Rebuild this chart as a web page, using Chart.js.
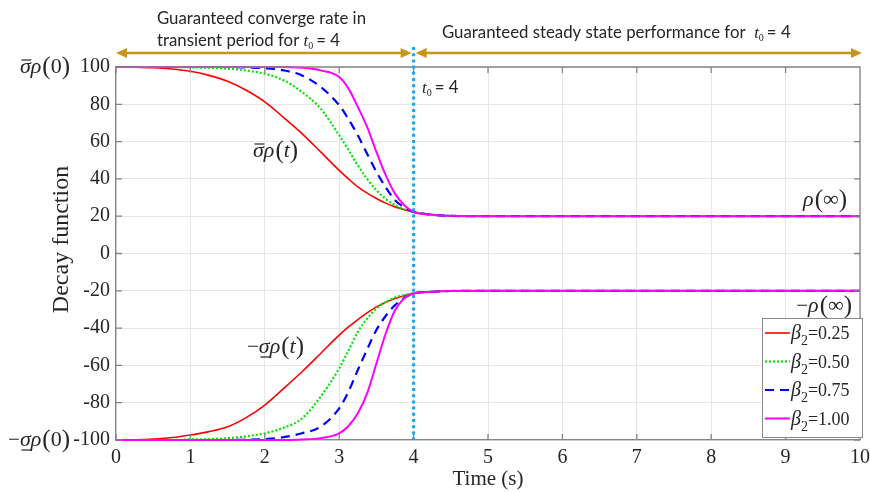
<!DOCTYPE html>
<html>
<head>
<meta charset="utf-8">
<script src="https://cdn.jsdelivr.net/npm/chart.js@4.4.1/dist/chart.umd.min.js"></script>
<style>
  html, body { margin: 0; padding: 0; background: #fff; }
  #wrap { width: 870px; height: 492px; }
</style>
</head>
<body>
<div id="wrap"><canvas id="c" width="870" height="492"></canvas></div>
<script>
// Sample instants (s) shared by every decay curve
const timeS = [0, 0.25, 0.5, 0.75, 1, 1.25, 1.5, 1.75, 2, 2.25, 2.5, 2.75, 3, 3.125, 3.25, 3.375, 3.5, 3.625, 3.75, 3.875, 4, 4.25, 4.5, 5, 6, 7, 8, 9, 10];

// Upper bound  sigma-bar * rho(t)  for each beta_2
const upper025 = [100, 99.9, 99.6, 98.9, 97.7, 95.5, 92.3, 87.5, 81.3, 73.0, 64.3, 54.5, 44.6, 40.0, 35.7, 32.4, 29.5, 27.0, 25.0, 23.5, 22.3, 20.8, 20.2, 20, 20, 20, 20, 20, 20];
const upper050 = [100, 100, 100, 100, 99.8, 99.6, 99.1, 98.1, 96.4, 92.9, 86.6, 77.7, 63.4, 55.5, 47.3, 40.0, 33.9, 29.3, 25.9, 23.7, 22.3, 20.8, 20.2, 20, 20, 20, 20, 20, 20];
const upper075 = [100, 100, 100, 100, 100, 100, 100, 99.8, 99.3, 98.2, 95.5, 89.3, 79.5, 72.0, 63.4, 53.5, 43.8, 35.5, 28.6, 24.8, 22.3, 20.8, 20.2, 20, 20, 20, 20, 20, 20];
const upper100 = [100, 100, 100, 100, 100, 100, 100, 100, 100, 100, 99.6, 98.2, 94.6, 88.4, 78.6, 67.9, 54.5, 42.0, 32.1, 25.9, 22.3, 20.8, 20.2, 20, 20, 20, 20, 20, 20];

// Lower bound  -sigma-underbar * rho(t)  for each beta_2
const lower025 = [-100, -99.9, -99.5, -98.7, -97.3, -95.5, -92.9, -88.0, -81.3, -72.5, -63.4, -53.6, -43.8, -39.4, -35.4, -31.8, -28.6, -26.2, -24.1, -22.6, -21.4, -20.5, -20.1, -20, -20, -20, -20, -20, -20];
const lower050 = [-100, -100, -100, -100, -99.7, -99.5, -99.0, -98.0, -96.4, -93.5, -88.4, -76.8, -61.6, -52.0, -42.0, -35.0, -29.5, -26.0, -23.6, -22.3, -21.4, -20.5, -20.1, -20, -20, -20, -20, -20, -20];
const lower075 = [-100, -100, -100, -100, -100, -100, -100, -99.8, -99.5, -98.5, -96.4, -92.9, -83.0, -74.0, -62.5, -51.5, -41.0, -33.5, -27.7, -23.8, -21.4, -20.5, -20.1, -20, -20, -20, -20, -20, -20];
const lower100 = [-100, -100, -100, -100, -100, -100, -100, -100, -100, -100, -99.7, -99.0, -96.4, -92.5, -85.7, -75.0, -59.0, -42.9, -30.4, -24.0, -21.4, -20.5, -20.1, -20, -20, -20, -20, -20, -20];

const betaValues = ['0.25', '0.50', '0.75', '1.00'];
const xTickValues = [0, 1, 2, 3, 4, 5, 6, 7, 8, 9, 10];
const yTickValues = [-100, -80, -60, -40, -20, 0, 20, 40, 60, 80, 100];
const switchTime = 4;

// Line styles, one per beta_2
const lineStyles = [
  { color: '#ff0000', dash: [], width: 1.6 },
  { color: '#00e600', dash: [2, 2], width: 2.2 },
  { color: '#0000ff', dash: [9, 6], width: 2.2 },
  { color: '#ff00ff', dash: [], width: 2.0 }
];

const uppers = [upper025, upper050, upper075, upper100];
const lowers = [lower025, lower050, lower075, lower100];

const datasets = [];
betaValues.forEach((b, i) => {
  [['upper', uppers[i]], ['lower', lowers[i]]].forEach(([side, arr]) => {
    datasets.push({
      label: 'beta2=' + b + ' ' + side,
      data: timeS.map((t, k) => ({ x: t, y: arr[k] })),
      borderColor: lineStyles[i].color,
      borderDash: lineStyles[i].dash,
      borderWidth: lineStyles[i].width,
      pointRadius: 0,
      fill: false,
      cubicInterpolationMode: 'monotone',
      order: 3 - i,
      clip: 4
    });
  });
});

const SERIF = '"Liberation Serif", "Times New Roman", serif';
const SANS = 'Lato, "Open Sans", sans-serif';
const AXIS_GRAY = '#858585';
const TEXT_DARK = '#262626';

// Draws a run of text pieces; piece: {t, f, dy, bar}
function drawRuns(ctx, x, y, runs, align) {
  let total = 0;
  runs.forEach(r => { ctx.font = r.f; r.w = ctx.measureText(r.t).width; total += r.w + (r.gap || 0); });
  let cx = align === 'right' ? x - total : (align === 'center' ? x - total / 2 : x);
  ctx.textBaseline = 'alphabetic';
  ctx.textAlign = 'left';
  runs.forEach(r => {
    ctx.font = r.f;
    ctx.fillStyle = r.c || TEXT_DARK;
    ctx.fillText(r.t, cx, y + (r.dy || 0));
    if (r.bar) {
      ctx.save();
      ctx.strokeStyle = r.c || TEXT_DARK;
      ctx.lineWidth = 1.2;
      ctx.beginPath();
      const by = r.bar === 'over' ? y - 13 : y + 4;
      ctx.moveTo(cx + 1.5, by);
      ctx.lineTo(cx + r.w + 0.5, by);
      ctx.stroke();
      ctx.restore();
    }
    cx += r.w + (r.gap || 0);
  });
}

const it = s => 'italic ' + s + 'px ' + SERIF;
const up = s => s + 'px ' + SERIF;

function rhoRuns(prefix, sigmaBar, arg, argItalic) {
  const runs = [];
  if (prefix) runs.push({ t: '\u2212', f: up(21) });
  if (sigmaBar) runs.push({ t: '\u03C3', f: it(22), bar: sigmaBar });
  runs.push({ t: '\u03C1', f: it(22), gap: 1 });
  runs.push({ t: '(', f: up(25), dy: 1 });
  runs.push({ t: arg, f: argItalic ? it(22) : up(22) });
  runs.push({ t: ')', f: up(25), dy: 1 });
  return runs;
}

const annotations = {
  id: 'annotations',
  afterDraw(chart) {
    const ctx = chart.ctx;
    const xs = chart.scales.x, ys = chart.scales.y;
    const a = chart.chartArea;

    ctx.save();
    // box border (top and right) and inward tick marks
    ctx.strokeStyle = AXIS_GRAY;
    ctx.lineWidth = 1.3;
    ctx.beginPath();
    ctx.moveTo(a.left, a.top); ctx.lineTo(a.right, a.top); ctx.lineTo(a.right, a.bottom);
    xTickValues.forEach(v => {
      const px = xs.getPixelForValue(v);
      ctx.moveTo(px, a.bottom); ctx.lineTo(px, a.bottom - 6);
      ctx.moveTo(px, a.top); ctx.lineTo(px, a.top + 6);
    });
    yTickValues.forEach(v => {
      const py = ys.getPixelForValue(v);
      ctx.moveTo(a.left, py); ctx.lineTo(a.left + 6, py);
      ctx.moveTo(a.right, py); ctx.lineTo(a.right - 6, py);
    });
    ctx.stroke();

    // y axis title
    ctx.save();
    ctx.translate(62, (a.top + a.bottom) / 2 - 14);
    ctx.rotate(-Math.PI / 2);
    ctx.font = '24px ' + SERIF;
    ctx.fillStyle = TEXT_DARK;
    ctx.textAlign = 'center';
    ctx.textBaseline = 'middle';
    ctx.fillText('Decay function', 0, 0);
    ctx.restore();

    // vertical marker at t0
    const x4 = xs.getPixelForValue(switchTime);
    ctx.strokeStyle = '#1ea5e8';
    ctx.lineWidth = 3;
    ctx.setLineDash([3, 3.2]);
    ctx.beginPath();
    ctx.moveTo(x4, 47); ctx.lineTo(x4, a.bottom);
    ctx.stroke();
    ctx.setLineDash([]);

    // double-headed arrows above the plot
    const gold = '#c8951c';
    const ay = 53;
    function arrow(x1, x2) {
      ctx.strokeStyle = gold; ctx.fillStyle = gold; ctx.lineWidth = 2.6;
      ctx.beginPath(); ctx.moveTo(x1 + 8, ay); ctx.lineTo(x2 - 8, ay); ctx.stroke();
      ctx.beginPath(); ctx.moveTo(x1, ay); ctx.lineTo(x1 + 11, ay - 5); ctx.lineTo(x1 + 11, ay + 5); ctx.closePath(); ctx.fill();
      ctx.beginPath(); ctx.moveTo(x2, ay); ctx.lineTo(x2 - 11, ay - 5); ctx.lineTo(x2 - 11, ay + 5); ctx.closePath(); ctx.fill();
    }
    arrow(xs.getPixelForValue(0), x4 - 2);
    arrow(x4 + 2, xs.getPixelForValue(10) + 2);

    // period captions
    const cap = '16.8px ' + SANS;
    drawRuns(ctx, 157, 24, [{ t: 'Guaranteed converge rate in', f: cap }], 'left');
    drawRuns(ctx, 157, 46, [
      { t: 'transient period for ', f: cap },
      { t: 't', f: it(17) },
      { t: '0', f: up(10), dy: 3, gap: 3 },
      { t: '= 4', f: cap }
    ], 'left');
    drawRuns(ctx, 442, 38, [
      { t: 'Guaranteed steady state performance for  ', f: cap },
      { t: 't', f: it(17) },
      { t: '0', f: up(10), dy: 3, gap: 3 },
      { t: '= 4', f: cap }
    ], 'left');

    // t0 label next to the marker
    drawRuns(ctx, 422, 93, [
      { t: 't', f: it(17) },
      { t: '0', f: up(10), dy: 3, gap: 3 },
      { t: '= 4', f: cap }
    ], 'left');

    // math labels
    drawRuns(ctx, 70, 73, rhoRuns(false, 'over', '0', false), 'right');
    drawRuns(ctx, 70, 446, rhoRuns(true, 'under', '0', false), 'right');
    drawRuns(ctx, 253, 157, rhoRuns(false, 'over', 't', true), 'left');
    drawRuns(ctx, 247, 353, rhoRuns(true, 'under', 't', true), 'left');
    drawRuns(ctx, 847, 206, rhoRuns(false, null, '\u221E', false), 'right');
    drawRuns(ctx, 852, 312, rhoRuns(true, null, '\u221E', false), 'right');

    // legend box
    const lx = 762, ly = 318, lw = 100, lh = 119;
    ctx.fillStyle = '#ffffff';
    ctx.fillRect(lx, ly, lw, lh);
    ctx.strokeStyle = '#8a8a8a';
    ctx.lineWidth = 1;
    ctx.strokeRect(lx + 0.5, ly + 0.5, lw, lh);
    betaValues.forEach((b, i) => {
      const ds = chart.data.datasets[i * 2];
      const rowY = ly + 15 + i * 28.5;
      ctx.strokeStyle = ds.borderColor;
      ctx.lineWidth = ds.borderWidth;
      ctx.setLineDash(ds.borderDash);
      ctx.beginPath(); ctx.moveTo(lx + 3, rowY); ctx.lineTo(lx + 28, rowY); ctx.stroke();
      ctx.setLineDash([]);
      drawRuns(ctx, lx + 29, rowY + 6, [
        { t: '\u03B2', f: it(20) },
        { t: '2', f: up(14), dy: 6 },
        { t: '=' + b, f: up(18) }
      ], 'left');
    });
    ctx.restore();
  }
};

new Chart(document.getElementById('c'), {
  type: 'line',
  data: { datasets },
  options: {
    responsive: false,
    animation: false,
    devicePixelRatio: 1,
    layout: { padding: { top: 67, right: 0, left: 0, bottom: 0 } },
    plugins: { legend: { display: false }, tooltip: { enabled: false } },
    scales: {
      x: {
        type: 'linear',
        min: 0, max: 10,
        afterBuildTicks: s => { s.ticks = xTickValues.map(v => ({ value: v })); },
        afterFit: s => { s.height = 52; s.paddingRight = 10; s.paddingLeft = 0; },
        grid: { color: '#e6e6e6', lineWidth: 1, drawTicks: false },
        border: { color: AXIS_GRAY, width: 1.3 },
        ticks: { color: TEXT_DARK, font: { family: SERIF, size: 20 }, padding: 6, maxRotation: 0 },
        title: { display: true, text: 'Time (s)', color: TEXT_DARK, font: { family: SERIF, size: 21 }, padding: { top: 0, bottom: 0 } }
      },
      y: {
        min: -100, max: 100,
        afterBuildTicks: s => { s.ticks = yTickValues.map(v => ({ value: v })); },
        afterFit: s => { s.width = 116; },
        grid: { color: '#e6e6e6', lineWidth: 1, drawTicks: false },
        border: { color: AXIS_GRAY, width: 1.3 },
        ticks: { color: TEXT_DARK, font: { family: SERIF, size: 20 }, padding: 6 },
        title: { display: false }
      }
    }
  },
  plugins: [annotations]
});
</script>
</body>
</html>
